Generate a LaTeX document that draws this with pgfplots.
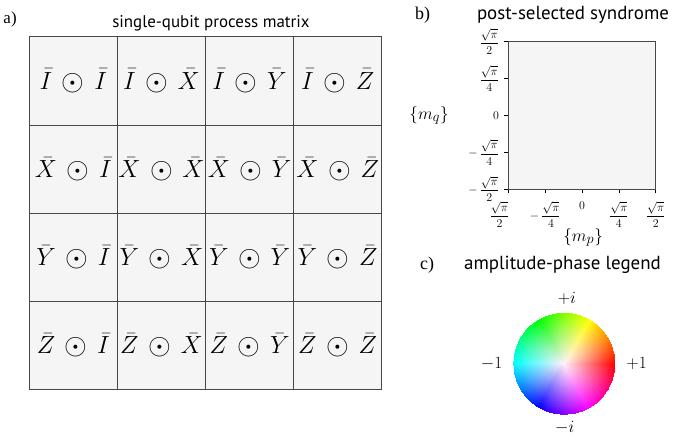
\documentclass[border=0pt]{standalone}
\usepackage{amsmath}
\usepackage{pgfplots}
\pgfplotsset{compat=1.18}
\usepackage{fontspec}
\newfontfamily\titlefont{PT Sans}
\newfontfamily\panelfont{Liberation Serif}
\newcommand{\myodot}{\mathbin{\vcenter{\hbox{\scalebox{1.18}{$\odot$}}}}}
\newcommand{\cell}[2]{$\bar{#1}\,\myodot\,\bar{#2}$}
\tikzset{cl/.style={font=\fontsize{24}{28}\selectfont},
         wl/.style={font=\fontsize{19}{22}\selectfont}}
\begin{document}
\begin{tikzpicture}
% ---------------- a) grid ----------------
\begin{axis}[at={(29.3bp,50.7bp)}, anchor=south west, scale only axis,
  width=352.4bp, height=352.4bp, xmin=0, xmax=4, ymin=0, ymax=4,
  xtick={1,2,3}, ytick={1,2,3}, xticklabel=\empty, yticklabel=\empty,
  major tick length=0pt, grid=major,
  grid style={black!72, line width=0.9bp},
  axis line style={black!72, line width=0.9bp},
  axis background/.style={fill=black!4}, clip=false]
\node[cl] at (axis cs:0.5,3.5) {\cell{I}{I}};
\node[cl] at (axis cs:1.5,3.5) {\cell{I}{X}};
\node[cl] at (axis cs:2.5,3.5) {\cell{I}{Y}};
\node[cl] at (axis cs:3.5,3.5) {\cell{I}{Z}};
\node[cl] at (axis cs:0.5,2.5) {\cell{X}{I}};
\node[cl] at (axis cs:1.5,2.5) {\cell{X}{X}};
\node[cl] at (axis cs:2.5,2.5) {\cell{X}{Y}};
\node[cl] at (axis cs:3.5,2.5) {\cell{X}{Z}};
\node[cl] at (axis cs:0.5,1.5) {\cell{Y}{I}};
\node[cl] at (axis cs:1.5,1.5) {\cell{Y}{X}};
\node[cl] at (axis cs:2.5,1.5) {\cell{Y}{Y}};
\node[cl] at (axis cs:3.5,1.5) {\cell{Y}{Z}};
\node[cl] at (axis cs:0.5,0.5) {\cell{Z}{I}};
\node[cl] at (axis cs:1.5,0.5) {\cell{Z}{X}};
\node[cl] at (axis cs:2.5,0.5) {\cell{Z}{Y}};
\node[cl] at (axis cs:3.5,0.5) {\cell{Z}{Z}};
\end{axis}
% ---------------- b) syndrome axis ----------------
\begin{axis}[at={(508.5bp,251bp)}, anchor=south west, scale only axis,
  width=147.2bp, height=147.2bp, xmin=-2, xmax=2, ymin=-2, ymax=2,
  xtick={-2,-1,0,1,2}, ytick={-2,-1,0,1,2},
  xticklabels={{\hspace*{-18bp}$\dfrac{\sqrt{\pi}}{2}$}, {$-\,\dfrac{\sqrt{\pi}}{4}$}, {$0$}, {$\dfrac{\sqrt{\pi}}{4}$}, {$\dfrac{\sqrt{\pi}}{2}$}},
  yticklabels={{$-\,\dfrac{\sqrt{\pi}}{2}$}, {$-\,\dfrac{\sqrt{\pi}}{4}$}, {$0$}, {$\dfrac{\sqrt{\pi}}{4}$}, {$\dfrac{\sqrt{\pi}}{2}$}},
  tick align=outside, xtick pos=bottom, ytick pos=left,
  major tick length=4.5bp, tick style={black, line width=0.8bp},
  axis line style={black!72, line width=0.9bp},
  axis background/.style={fill=black!4},
  ticklabel style={font=\fontsize{12}{14}\selectfont},
  xticklabel style={yshift=-4.5bp}, yticklabel style={xshift=-1.5bp},
  xlabel={$\{m_p\}$}, ylabel={$\{m_q\}$},
  label style={font=\fontsize{19}{22}\selectfont},
  xlabel style={at={(axis description cs:0.507,-0.33)}, anchor=center},
  ylabel style={rotate=-90, at={(axis description cs:-0.54,0.5)}, anchor=center}]
\addplot[draw=none, forget plot] coordinates {(0,0)};
\end{axis}
% ---------------- c) colour wheel ----------------
\begin{axis}[at={(564.3bp,76.2bp)}, anchor=center, scale only axis,
  width=101bp, height=101bp, xmin=-1, xmax=1, ymin=-1, ymax=1,
  hide axis, clip=false]
\addplot[patch, patch type=triangle, shader=interp,
  mesh/color input=explicit, point meta=explicit symbolic,
  table/row sep=\\,
  patch table={0 1 2\\0 2 3\\0 3 4\\0 4 5\\0 5 6\\0 6 7\\0 7 8\\0 8 9\\0 9 10\\0 10 11\\0 11 12\\0 12 13\\0 13 14\\0 14 15\\0 15 16\\0 16 17\\0 17 18\\0 18 19\\0 19 20\\0 20 21\\0 21 22\\0 22 23\\0 23 24\\0 24 25\\0 25 26\\0 26 27\\0 27 28\\0 28 29\\0 29 30\\0 30 31\\0 31 32\\0 32 33\\0 33 34\\0 34 35\\0 35 36\\0 36 1\\}]
table[meta=c] {
x y c\\
0 0 rgb=1,0.94,0.97\\
1.0000 0.0000 rgb=1,0,0\\
0.9848 0.1736 rgb=1,0.1667,0\\
0.9397 0.3420 rgb=1,0.3333,0\\
0.8660 0.5000 rgb=1,0.5,0\\
0.7660 0.6428 rgb=1,0.6667,0\\
0.6428 0.7660 rgb=1,0.8333,0\\
0.5000 0.8660 rgb=1,1,0\\
0.3420 0.9397 rgb=0.8333,1,0\\
0.1736 0.9848 rgb=0.6667,1,0\\
0.0000 1.0000 rgb=0.5,1,0\\
-0.1736 0.9848 rgb=0.3333,1,0\\
-0.3420 0.9397 rgb=0.1667,1,0\\
-0.5000 0.8660 rgb=0,1,0\\
-0.6428 0.7660 rgb=0,1,0.1667\\
-0.7660 0.6428 rgb=0,1,0.3333\\
-0.8660 0.5000 rgb=0,1,0.5\\
-0.9397 0.3420 rgb=0,1,0.6667\\
-0.9848 0.1736 rgb=0,1,0.8333\\
-1.0000 0.0000 rgb=0,1,1\\
-0.9848 -0.1736 rgb=0,0.8333,1\\
-0.9397 -0.3420 rgb=0,0.6667,1\\
-0.8660 -0.5000 rgb=0,0.5,1\\
-0.7660 -0.6428 rgb=0,0.3333,1\\
-0.6428 -0.7660 rgb=0,0.1667,1\\
-0.5000 -0.8660 rgb=0,0,1\\
-0.3420 -0.9397 rgb=0.1667,0,1\\
-0.1736 -0.9848 rgb=0.3333,0,1\\
0.0000 -1.0000 rgb=0.5,0,1\\
0.1736 -0.9848 rgb=0.6667,0,1\\
0.3420 -0.9397 rgb=0.8333,0,1\\
0.5000 -0.8660 rgb=1,0,1\\
0.6428 -0.7660 rgb=1,0,0.8333\\
0.7660 -0.6428 rgb=1,0,0.6667\\
0.8660 -0.5000 rgb=1,0,0.5\\
0.9397 -0.3420 rgb=1,0,0.3333\\
0.9848 -0.1736 rgb=1,0,0.1667\\
};
\node[wl] at (axis cs:0.05,1.30) {$+i$};
\node[wl] at (axis cs:0.01,-1.27) {$-i$};
\node[wl] at (axis cs:-1.44,0) {$-1$};
\node[wl] at (axis cs:1.43,0) {$+1$};
\end{axis}
% ---------------- titles ----------------
\node[anchor=base west, inner sep=0pt, font=\panelfont\fontsize{17}{20}\selectfont] at (3.3bp,416bp) {a)};
\node[anchor=base, inner sep=0pt, font=\titlefont\fontsize{17}{20}\selectfont] at (211bp,412.5bp) {single-qubit process matrix};
\node[anchor=base west, inner sep=0pt, font=\panelfont\fontsize{18}{20}\selectfont] at (415bp,420.5bp) {b)};
\node[anchor=base, inner sep=0pt, font=\titlefont\fontsize{19}{22}\selectfont] at (573bp,420.5bp) {post-selected syndrome};
\node[anchor=base west, inner sep=0pt, font=\panelfont\fontsize{18}{20}\selectfont] at (420bp,170.4bp) {c)};
\node[anchor=base, inner sep=0pt, font=\titlefont\fontsize{19}{22}\selectfont] at (562.5bp,170.4bp) {amplitude-phase legend};
\pgfresetboundingbox
\path[use as bounding box] (0,0) rectangle (676bp,440bp);
\end{tikzpicture}
\end{document}
